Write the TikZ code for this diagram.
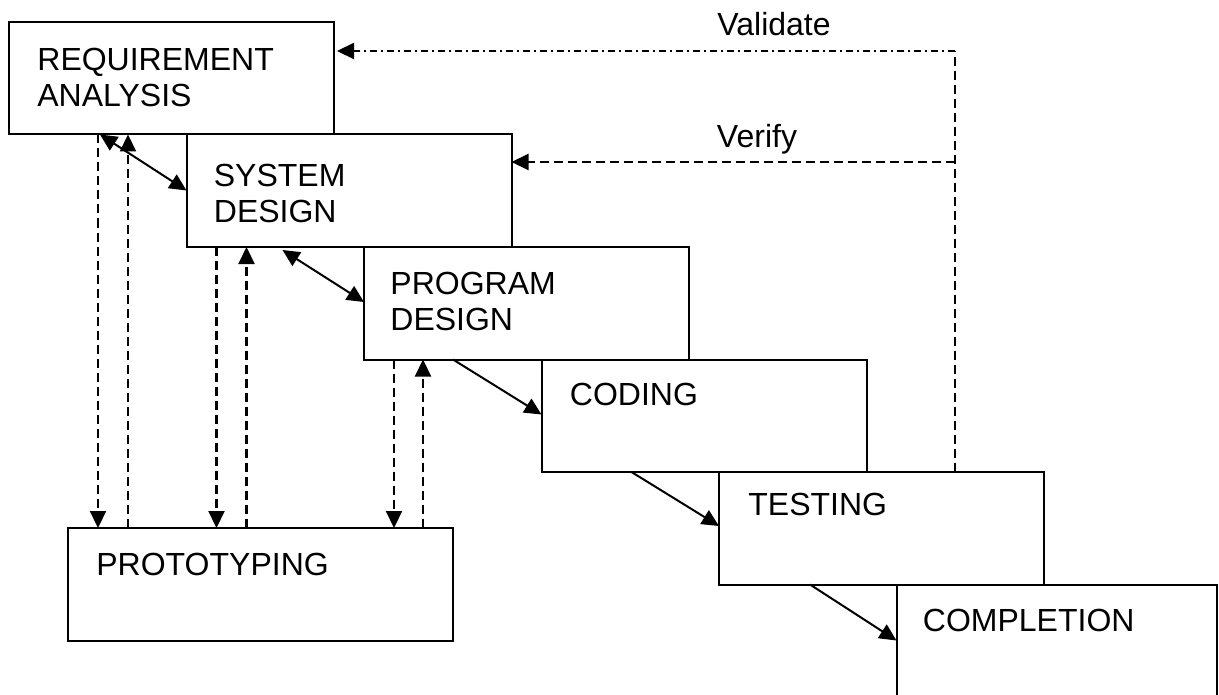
\documentclass[tikz,border=0pt]{standalone}
\usepackage{fontspec}
\setmainfont{Liberation Sans}
\usetikzlibrary{arrows.meta, calc}
\tikzstyle{stage}=[draw, rectangle, line width=1pt, anchor=north west, inner sep=0pt, outer sep=0pt,
  minimum width=162.5pt, minimum height=56.25pt]
\tikzstyle{tag}=[anchor=north west, inner sep=0pt, align=left]
\tikzstyle{feed}=[line width=1.1pt, dash pattern=on 4.5pt off 2.5pt]
\tikzstyle{check}=[line width=1.1pt, dash pattern=on 3.5pt off 2pt on 1pt off 2pt]
\tikzstyle{every node}=[font=\fontsize{16}{18}\selectfont]

\begin{document}
\begin{tikzpicture}[x=0.5pt, y=-0.5pt, >={Triangle[length=8.5pt, width=8pt]}]
  \useasboundingbox (0,0) rectangle (1219,695);

  % waterfall steps
  \node[stage] (req) at (9,22) {};
  \node[stage] (sys) at ($(req.south west)+(177.5,0)$) {};
  \node[stage] (prog) at ($(sys.south west)+(177.5,0)$) {};
  \node[stage] (coding) at ($(prog.south west)+(177.5,0)$) {};
  \node[stage] (testing) at ($(coding.south west)+(177.5,0)$) {};
  \node[stage, minimum width=160pt, minimum height=65pt] (completion) at ($(testing.south west)+(177.5,0)$) {};
  \node[stage, minimum width=192.5pt] (proto) at (68,528) {};

  \node[tag] (req-label) at ($(req.north west)+(28,26)$) {REQUIREMENT\\ANALYSIS};
  \node[tag] (sys-label) at ($(sys.north west)+(27,29)$) {SYSTEM\\DESIGN};
  \node[tag] (prog-label) at ($(prog.north west)+(26,25)$) {PROGRAM\\DESIGN};
  \node[tag] (coding-label) at ($(coding.north west)+(28,23)$) {CODING};
  \node[tag] (testing-label) at ($(testing.north west)+(29,21)$) {TESTING};
  \node[tag] (completion-label) at ($(completion.north west)+(26,24)$) {COMPLETION};
  \node[tag] (proto-label) at ($(proto.north west)+(28,25)$) {PROTOTYPING};

  % flow down the steps
  \draw[<->, line width=1pt] ($(req.south west)+(91,0)$) -- ($(sys.north west)+(0,56)$);
  \draw[<->, line width=1pt] ($(sys.south west)+(96,3)$) -- ($(prog.north west)+(0,55)$);
  \draw[->, line width=1pt] ($(prog.south west)+(89,0)$) -- ($(coding.north west)+(0,55)$);
  \draw[->, line width=1pt] ($(coding.south west)+(90,0)$) -- ($(testing.north west)+(0,54)$);
  \draw[->, line width=1pt] ($(testing.south west)+(91,0)$) -- ($(completion.north west)+(0,56)$);

  % prototyping loops
  \coordinate (req-down) at ($(req.south west)+(89,0)$);
  \coordinate (req-up) at ($(req.south west)+(119,0)$);
  \coordinate (sys-down) at ($(sys.south west)+(30,0)$);
  \coordinate (sys-up) at ($(sys.south west)+(60,0)$);
  \coordinate (prog-down) at ($(prog.south west)+(30,0)$);
  \coordinate (prog-up) at ($(prog.south west)+(59,0)$);
  \draw[feed, ->] (req-down) -- (req-down |- proto.north);
  \draw[feed, ->] (req-up |- proto.north) -- (req-up);
  \draw[feed, ->] (sys-down) -- (sys-down |- proto.north);
  \draw[feed, ->] (sys-up |- proto.north) -- (sys-up);
  \draw[feed, ->] (prog-down) -- (prog-down |- proto.north);
  \draw[feed, ->] (prog-up |- proto.north) -- (prog-up);

  % verify and validate
  \coordinate (v-top) at (955,51);
  \coordinate (v-mid) at (955,162);
  \draw[feed] (v-top |- testing.north) -- (v-top);
  \draw[check, ->] (v-top) -- ($(v-top -| req.east)+(3,0)$);
  \draw[feed, ->] (v-mid) -- (v-mid -| sys.east);
  \node[anchor=base] (validate) at (774,36) {Validate};
  \node[anchor=base] (verify) at (757,148) {Verify};
\end{tikzpicture}
\end{document}
